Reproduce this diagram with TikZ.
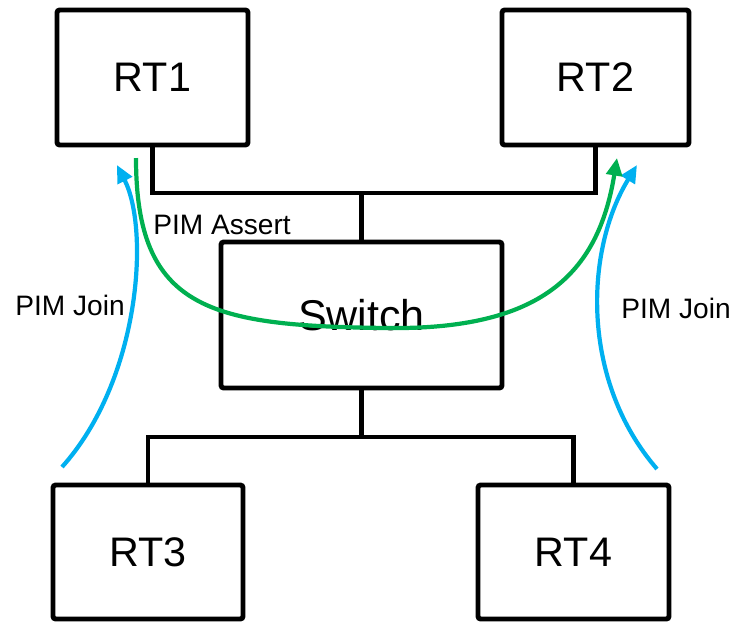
\documentclass[tikz,border=0pt]{standalone}
\usepackage{fontspec}
\setmainfont{Liberation Sans}
\usetikzlibrary{arrows.meta}
\definecolor{joinblue}{RGB}{0,176,240}
\definecolor{assertgreen}{RGB}{0,176,80}

\begin{document}
\begin{tikzpicture}[x=0.02cm, y=-0.02cm,
    router/.style={draw, line width=2.8pt, rounded corners=1.5pt, minimum height=2.7cm,
        font=\fontsize{23.5}{28}\selectfont},
    link/.style={line width=2.8pt},
    msg/.style={line width=2.4pt, -{Triangle[length=10pt, width=9pt]}},
    lbl/.style={font=\fontsize{16}{19}\selectfont}]
            \useasboundingbox (0,0) rectangle (731,623);
            \node[router, minimum width=3.82cm] (rt1) at (152.5,77.5) {RT1};
            \node[router, minimum width=3.74cm] (rt2) at (595.5,77.5) {RT2};
            \node[router, minimum width=5.62cm, minimum height=2.92cm,
                font=\fontsize{24.5}{29}\selectfont] (sw) at (361.5,315) {Switch};
            \node[router, minimum width=3.8cm, minimum height=2.68cm] (rt3) at (148,552) {RT3};
            \node[router, minimum width=3.82cm, minimum height=2.68cm] (rt4) at (573.5,552) {RT4};
            \coordinate (topbus) at (361.5,193);
            \coordinate (botbus) at (361.5,437);
            \draw[link] (rt1.south) |- (topbus) -| (rt2.south);
            \draw[link] (topbus) -- (sw.north);
            \draw[link] (sw.south) -- (botbus);
            \draw[link] (rt3.north) |- (botbus) -| (rt4.north);
            % joins from RT3 / RT4
            \coordinate (j3) at (62,467);
            \coordinate (j1) at (117,165);
            \coordinate (j4) at (657,469);
            \coordinate (j2) at (637,165);
            \draw[msg, joinblue] (j3) .. controls (140,380) and (150,230) .. (j1);
            \draw[msg, joinblue] (j4) .. controls (580,380) and (585,250) .. (j2);
            % assert from RT1 over the switch
            \coordinate (a1) at (136,158);
            \coordinate (a2) at (617,158);
            \draw[msg, assertgreen] (a1) .. controls (136,310) and (210,326) .. (387,328)
                .. controls (540,330) and (598,275) .. (a2);
            \node[lbl] (assert) at (222,225) {PIM Assert};
            \node[lbl] (join3) at (70,305) {PIM Join};
            \node[lbl] (join4) at (676,308) {PIM Join};
        \end{tikzpicture}
\end{document}
